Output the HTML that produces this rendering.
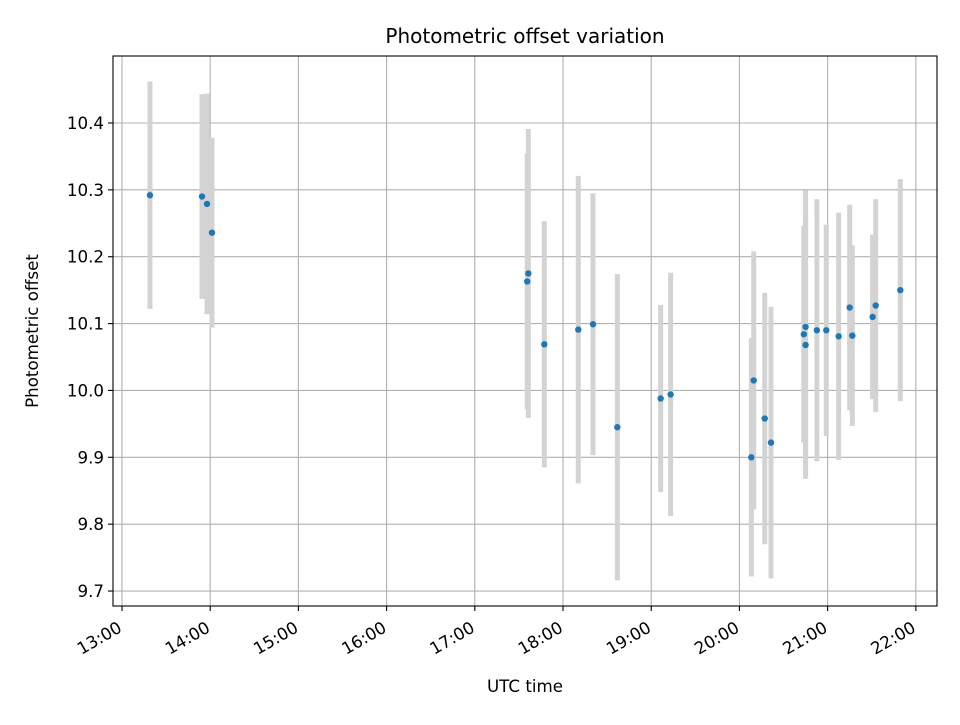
<!DOCTYPE html>
<html><head><meta charset="utf-8"><style>
body{margin:0;background:#fff;}
svg text{font-family:"DejaVu Sans","Liberation Sans",sans-serif;fill:#000;}
</style></head><body>
<svg id="chart" width="960" height="720" xmlns="http://www.w3.org/2000/svg">
<rect width="960" height="720" fill="#fff"/>
<g id="grid"></g><g id="bars"></g><g id="pts"></g><g id="axes"></g>
<text x="525" y="43" font-size="20" text-anchor="middle">Photometric offset variation</text>
<text x="525" y="692" font-size="16.7" text-anchor="middle">UTC time</text>
<text transform="translate(38,331) rotate(-90)" font-size="16.7" text-anchor="middle">Photometric offset</text>
</svg>
<script>
const times=[13.317,13.907,13.964,14.02,17.594,17.607,17.788,18.173,18.34,18.616,19.107,19.22,20.135,20.162,20.287,20.358,20.73,20.75,20.75,20.878,20.985,21.125,21.25,21.28,21.51,21.545,21.824];
const values=[10.292,10.29,10.279,10.236,10.163,10.175,10.069,10.091,10.099,9.945,9.988,9.994,9.9,10.015,9.958,9.922,10.084,10.095,10.068,10.09,10.09,10.081,10.124,10.082,10.11,10.127,10.15];
const errors=[0.170,0.153,0.165,0.142,0.191,0.216,0.184,0.23,0.196,0.229,0.14,0.182,0.178,0.193,0.188,0.203,0.162,0.204,0.2,0.196,0.158,0.185,0.154,0.135,0.123,0.159,0.166];
const xTicks=[13,14,15,16,17,18,19,20,21,22];
const xTickLabels=["13:00","14:00","15:00","16:00","17:00","18:00","19:00","20:00","21:00","22:00"];
const yTicks=[9.7,9.8,9.9,10.0,10.1,10.2,10.3,10.4];
const yTickLabels=["9.7","9.8","9.9","10.0","10.1","10.2","10.3","10.4"];
const L=113,R=937,T=56,B=606;
const x0=12.898,x1=22.24,y0=9.6776,y1=10.5002;
const sx=h=>L+(h-x0)/(x1-x0)*(R-L);
const sy=v=>B-(v-y0)/(y1-y0)*(B-T);
const NS="http://www.w3.org/2000/svg";
function mk(tag,attrs,parent){const e=document.createElementNS(NS,tag);for(const k in attrs)e.setAttribute(k,attrs[k]);parent.appendChild(e);return e;}
const grid=document.getElementById('grid'),bars=document.getElementById('bars'),pts=document.getElementById('pts'),axes=document.getElementById('axes');
xTicks.forEach((t,i)=>{const x=sx(t);
 const g=mk('line',{x1:x,x2:x,y1:T,y2:B,stroke:'#b0b0b0','stroke-width':1.1},grid);
 
 const tk=mk('line',{x1:x,x2:x,y1:B,y2:B+5,stroke:'#000','stroke-width':1.1},axes);
 
 const tx=mk('text',{transform:`translate(${x+1},${B+25}) rotate(-30)`,'font-size':16.7,'text-anchor':'end'},axes);
 tx.textContent=xTickLabels[i];
 
});
yTicks.forEach((t,i)=>{const y=sy(t);
 const g=mk('line',{x1:L,x2:R,y1:y,y2:y,stroke:'#b0b0b0','stroke-width':1.1},grid);
 
 const tk=mk('line',{x1:L-5,x2:L,y1:y,y2:y,stroke:'#000','stroke-width':1.1},axes);
 
 const tx=mk('text',{x:L-9,y:y+6,'font-size':16.7,'text-anchor':'end'},axes);
 tx.textContent=yTickLabels[i];
 
});
const fr=mk('rect',{x:L,y:T,width:R-L,height:B-T,fill:'none',stroke:'#000','stroke-width':1.1},axes);

times.forEach((t,i)=>{const x=sx(t);
 const b=mk('line',{x1:x,x2:x,y1:sy(values[i]+errors[i]),y2:sy(values[i]-errors[i]),stroke:'#d3d3d3','stroke-width':5},bars);
 
 const c=mk('circle',{cx:x,cy:sy(values[i]),r:3.2,fill:'#1f77b4'},pts);
 
});
</script>
</body></html>
